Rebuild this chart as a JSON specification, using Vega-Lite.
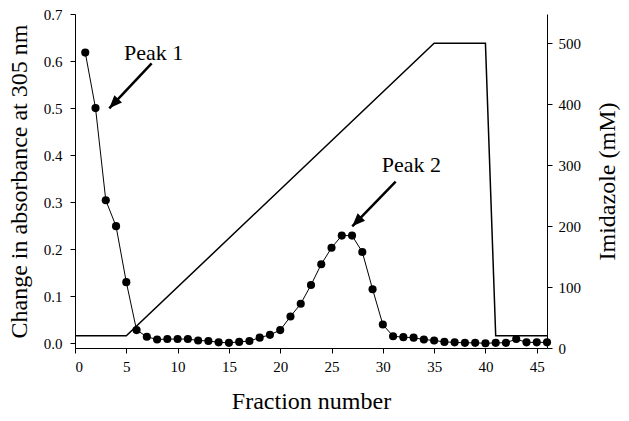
{
  "$schema": "https://vega.github.io/schema/vega-lite/v6.json",
  "width": 472,
  "height": 334,
  "autosize": {"type": "none"},
  "padding": {"left": 75, "top": 14, "right": 82, "bottom": 73},
  "background": "white",
  "config": {
    "view": {"stroke": null},
    "font": "Liberation Serif",
    "axis": {
      "grid": false,
      "domainColor": "black",
      "domainWidth": 1,
      "tickColor": "black",
      "tickSize": 5,
      "tickWidth": 1,
      "labelFont": "Liberation Serif",
      "labelFontSize": 15,
      "labelColor": "black",
      "labelPadding": 6,
      "titleFont": "Liberation Serif",
      "titleFontSize": 24,
      "titleFontWeight": "normal",
      "titleColor": "black"
    }
  },
  "datasets": {
    "absorbance": [
      {"fraction": 1, "abs": 0.618}, {"fraction": 2, "abs": 0.500}, {"fraction": 3, "abs": 0.304},
      {"fraction": 4, "abs": 0.249}, {"fraction": 5, "abs": 0.130}, {"fraction": 6, "abs": 0.028},
      {"fraction": 7, "abs": 0.014}, {"fraction": 8, "abs": 0.008}, {"fraction": 9, "abs": 0.009},
      {"fraction": 10, "abs": 0.009}, {"fraction": 11, "abs": 0.009}, {"fraction": 12, "abs": 0.006},
      {"fraction": 13, "abs": 0.005}, {"fraction": 14, "abs": 0.002}, {"fraction": 15, "abs": 0.001},
      {"fraction": 16, "abs": 0.003}, {"fraction": 17, "abs": 0.005}, {"fraction": 18, "abs": 0.012},
      {"fraction": 19, "abs": 0.018}, {"fraction": 20, "abs": 0.028}, {"fraction": 21, "abs": 0.057},
      {"fraction": 22, "abs": 0.084}, {"fraction": 23, "abs": 0.124}, {"fraction": 24, "abs": 0.168},
      {"fraction": 25, "abs": 0.203}, {"fraction": 26, "abs": 0.229}, {"fraction": 27, "abs": 0.229},
      {"fraction": 28, "abs": 0.194}, {"fraction": 29, "abs": 0.115}, {"fraction": 30, "abs": 0.040},
      {"fraction": 31, "abs": 0.015}, {"fraction": 32, "abs": 0.013}, {"fraction": 33, "abs": 0.012},
      {"fraction": 34, "abs": 0.008}, {"fraction": 35, "abs": 0.006}, {"fraction": 36, "abs": 0.003},
      {"fraction": 37, "abs": 0.002}, {"fraction": 38, "abs": 0.001}, {"fraction": 39, "abs": 0.001},
      {"fraction": 40, "abs": 0.000}, {"fraction": 41, "abs": 0.001}, {"fraction": 42, "abs": 0.001},
      {"fraction": 43, "abs": 0.009}, {"fraction": 44, "abs": 0.002}, {"fraction": 45, "abs": 0.002},
      {"fraction": 46, "abs": 0.002}
    ],
    "imidazole": [
      {"fraction": 0, "mM": 20}, {"fraction": 5, "mM": 20}, {"fraction": 35, "mM": 500},
      {"fraction": 40, "mM": 500}, {"fraction": 41, "mM": 20}, {"fraction": 46, "mM": 20}
    ],
    "arrows": [
      {"label": "Peak 1", "tx": 4.78, "ty": 0.602, "x0": 7.47, "y0": 0.595, "x1": 3.34, "y1": 0.4996, "ang": 223.3},
      {"label": "Peak 2", "tx": 29.89, "ty": 0.364, "x0": 31.25, "y0": 0.3435, "x1": 27.02, "y1": 0.2487, "ang": 224.3}
    ]
  },
  "layer": [
    {
      "data": {"name": "imidazole"},
      "mark": {"type": "line", "color": "black", "strokeWidth": 1.5},
      "encoding": {
        "x": {"field": "fraction", "type": "quantitative", "scale": {"domain": [0, 46], "nice": false, "zero": false},
          "axis": {"values": [0, 5, 10, 15, 20, 25, 30, 35, 40, 45], "title": "Fraction number", "titlePadding": 15}},
        "y": {"field": "mM", "type": "quantitative", "scale": {"domain": [0, 548], "nice": false},
          "axis": {"orient": "right", "values": [0, 100, 200, 300, 400, 500], "title": "Imidazole (mM)", "titleAngle": -90, "titleBaseline": "top", "titlePadding": 15}}
      }
    },
    {
      "layer": [
        {
          "data": {"name": "absorbance"},
          "mark": {"type": "line", "color": "black", "strokeWidth": 1},
          "encoding": {
            "x": {"field": "fraction", "type": "quantitative"},
            "y": {"field": "abs", "type": "quantitative", "scale": {"domain": [-0.01, 0.7], "nice": false, "zero": false},
              "axis": {"orient": "left", "values": [0, 0.1, 0.2, 0.3, 0.4, 0.5, 0.6, 0.7], "format": ".1f", "labelPadding": 8, "title": "Change in absorbance at 305 nm", "titlePadding": 12}}
          }
        },
        {
          "data": {"name": "absorbance"},
          "mark": {"type": "point", "shape": "circle", "filled": true, "color": "black", "size": 66, "opacity": 1},
          "encoding": {
            "x": {"field": "fraction", "type": "quantitative"},
            "y": {"field": "abs", "type": "quantitative"}
          }
        },
        {
          "data": {"name": "arrows"},
          "mark": {"type": "rule", "color": "black", "strokeWidth": 2.5},
          "encoding": {
            "x": {"field": "x0", "type": "quantitative"},
            "y": {"field": "y0", "type": "quantitative"},
            "x2": {"field": "x1"},
            "y2": {"field": "y1"}
          }
        },
        {
          "data": {"name": "arrows"},
          "mark": {"type": "point", "shape": "M0,0L-0.4,1L0.4,1Z", "filled": true, "color": "black", "size": 676, "opacity": 1},
          "encoding": {
            "x": {"field": "x1", "type": "quantitative"},
            "y": {"field": "y1", "type": "quantitative"},
            "angle": {"field": "ang", "type": "quantitative", "scale": null}
          }
        },
        {
          "data": {"name": "arrows"},
          "mark": {"type": "text", "font": "Liberation Serif", "fontSize": 22, "align": "left", "baseline": "alphabetic", "color": "black"},
          "encoding": {
            "x": {"field": "tx", "type": "quantitative"},
            "y": {"field": "ty", "type": "quantitative"},
            "text": {"field": "label"}
          }
        }
      ]
    }
  ],
  "resolve": {"scale": {"y": "independent"}}
}
